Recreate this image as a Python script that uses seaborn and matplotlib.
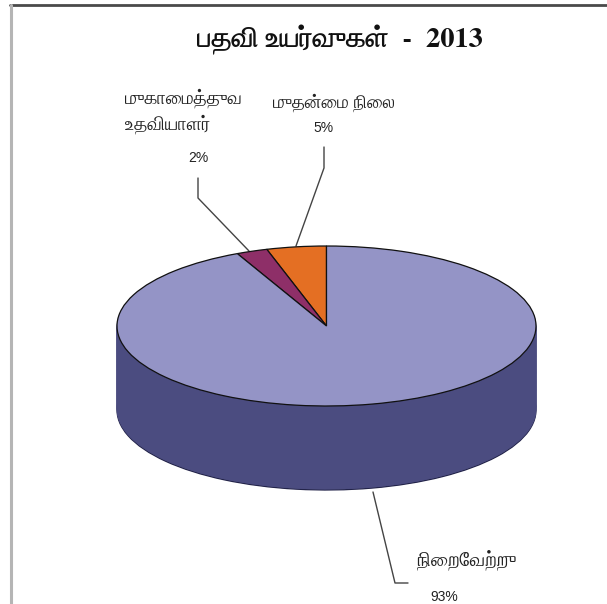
import numpy as np
import matplotlib
matplotlib.use("Agg")
import matplotlib.pyplot as plt
import seaborn as sns

title = "பதவி உயர்வுகள்  -  2013"
labels = ["முதன்மை நிலை", "முகாமைத்துவ\nஉதவியாளர்", "நிறைவேற்று"]
shares = [4.6, 2.4, 93.0]
colors = ["#E46F23", "#8E2F68", "#9494C6"]
side_color = "#4B4C80"

PREFIX = "ெேை"


def visual(s):
    """matplotlib does no Tamil shaping: place prefix vowel signs before their consonant."""
    out = []
    for ch in s:
        if ch in PREFIX and out:
            out.insert(len(out) - 1, ch)
        else:
            out.append(ch)
    return "".join(out)


sns.set_theme(style="white")
TAMIL = ["FreeSerif", "DejaVu Sans"]
W, H = 607, 604
fig = plt.figure(figsize=(W/100, H/100), dpi=100, facecolor="white")
px = fig.add_axes([0, 0, 1, 1])
px.set_xlim(0, W); px.set_ylim(H, 0); px.axis("off")

cx, cy, rx, ry, depth = 326.5, 326, 209.5, 80, 84
ax = fig.add_axes([0, 0, 1, 1], facecolor="none")
levels = np.linspace(depth/ry, 0, 90)
for i, k in enumerate(levels):
    top = k == 0
    first = i == 0
    ax.pie(shares, colors=colors if top else [side_color]*3, startangle=90, radius=1,
           center=(0, -k),
           wedgeprops=dict(linewidth=0.9 if (top or first) else 0.5,
                           edgecolor="#111111" if top else ("#23244a" if first else side_color)))
ax.set_aspect("auto")
ax.set_xlim(-cx/rx, (W-cx)/rx)
ax.set_ylim((cy-H)/ry, cy/ry)
ax.axis("off")

px.plot([10, W], [5, 5], color="#4a4a4a", lw=2)
px.plot([11, 11], [5, H], color="#b5b5b5", lw=2.2)
grey = "#444444"
for xs, ys in [([324,324,296],[147,168,246]), ([198,198,249],[178,198,251]), ([373,395,408],[492,583,583])]:
    px.plot(xs, ys, color=grey, lw=1.0, zorder=5)

px.text(340, 40, visual(title), ha="center", va="center", fontsize=20.5, family=TAMIL,
        fontweight="bold", color="#111111")
px.text(125, 111, visual(labels[1]), ha="left", va="center", fontsize=13.5, family=TAMIL, color="#222222", linespacing=1.35)
px.text(334, 103, visual(labels[0]), ha="center", va="center", fontsize=13.2, family=TAMIL, color="#222222")
px.text(467, 560, visual(labels[2]), ha="center", va="center", fontsize=14.5, family=TAMIL, color="#222222")
for x, y, v in [(198,158,shares[1]), (324,128,shares[0]), (444,597,shares[2])]:
    px.text(x, y, f"{round(v)}%", ha="center", va="center", fontsize=10, family="Liberation Sans", color="#222222")
fig.savefig("out.png", dpi=100)
